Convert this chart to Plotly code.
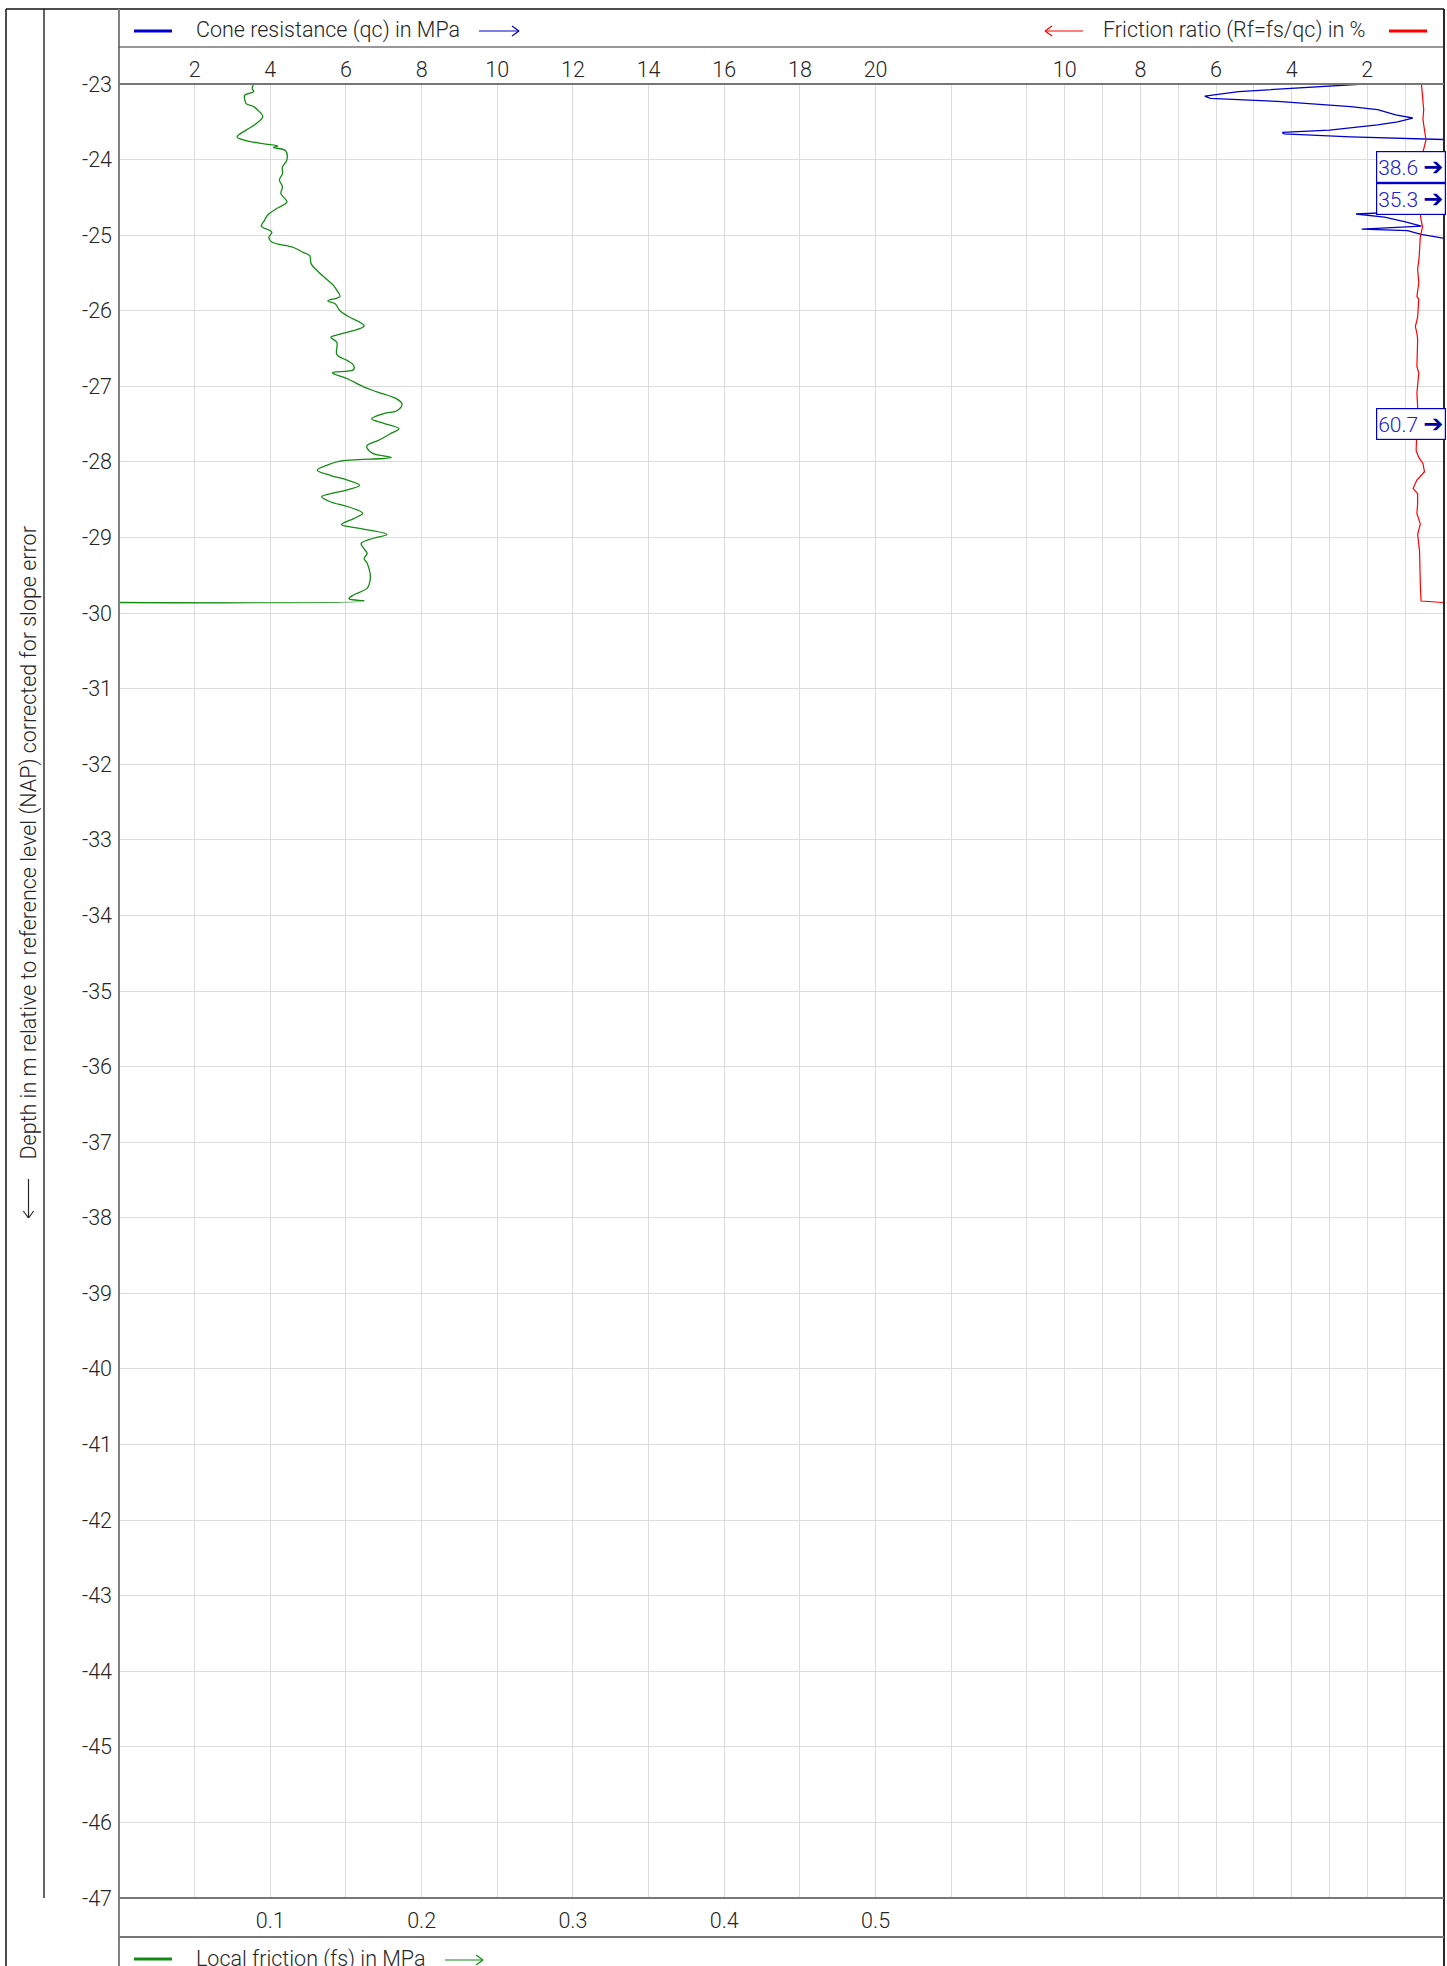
import plotly.graph_objects as go

# depth in m (NAP) and local friction fs in MPa
fs_depth = [-23.00, -23.06, -23.10, -23.15, -23.19, -23.26, -23.30, -23.35, -23.43, -23.52,
            -23.61, -23.66, -23.70, -23.74, -23.79, -23.82, -23.84, -23.88, -24.00, -24.10,
            -24.19, -24.27, -24.36, -24.45, -24.56, -24.65, -24.74, -24.81, -24.88, -24.96,
            -25.03, -25.09, -25.16, -25.23, -25.27, -25.38, -25.47, -25.58, -25.67, -25.73,
            -25.81, -25.87, -25.91, -26.00, -26.07, -26.20, -26.31, -26.35, -26.42, -26.58,
            -26.66, -26.72, -26.78, -26.82, -26.90, -27.01, -27.07, -27.16, -27.23, -27.32,
            -27.36, -27.43, -27.49, -27.56, -27.63, -27.71, -27.78, -27.82, -27.89, -27.94,
            -27.99, -28.04, -28.11, -28.18, -28.24, -28.31, -28.37, -28.42, -28.46, -28.53,
            -28.59, -28.68, -28.75, -28.83, -28.88, -28.96, -29.01, -29.08, -29.15, -29.21,
            -29.28, -29.34, -29.48, -29.56, -29.67, -29.76, -29.81, -29.84, -29.86]
fs_val = [0.089, 0.088, 0.089, 0.083, 0.083, 0.084, 0.089, 0.092, 0.095, 0.091,
          0.084, 0.080, 0.078, 0.082, 0.095, 0.105, 0.102, 0.110, 0.111, 0.108,
          0.108, 0.106, 0.108, 0.107, 0.111, 0.104, 0.098, 0.096, 0.094, 0.101,
          0.099, 0.101, 0.115, 0.122, 0.126, 0.127, 0.131, 0.137, 0.142, 0.144,
          0.146, 0.138, 0.143, 0.146, 0.151, 0.162, 0.146, 0.140, 0.144, 0.144,
          0.151, 0.155, 0.155, 0.141, 0.151, 0.162, 0.170, 0.183, 0.187, 0.184,
          0.175, 0.167, 0.175, 0.185, 0.179, 0.172, 0.164, 0.164, 0.168, 0.180,
          0.146, 0.138, 0.131, 0.140, 0.151, 0.159, 0.151, 0.140, 0.134, 0.140,
          0.151, 0.161, 0.155, 0.147, 0.159, 0.177, 0.168, 0.160, 0.162, 0.164,
          0.162, 0.164, 0.166, 0.166, 0.164, 0.155, 0.152, 0.162, 0.000]

# cone resistance qc in MPa (values above 35 run off the chart)
qc_depth = [-23.00, -23.10, -23.16, -23.19, -23.23, -23.30, -23.34, -23.38, -23.41, -23.45,
            -23.50, -23.54, -23.59, -23.61, -23.64, -23.66, -23.70, -23.74, -23.90, -24.10,
            -24.30, -24.52, -24.62, -24.67, -24.72, -24.76, -24.82, -24.88, -24.92, -24.94,
            -24.99, -25.04, -25.40, -26.00, -26.80, -27.50, -28.20, -29.00, -29.84]
qc_val = [32.90, 29.60, 28.70, 28.85, 30.62, 32.56, 33.27, 33.58, 33.75, 34.20,
          33.80, 33.27, 32.39, 32.00, 30.75, 30.80, 32.56, 35.40, 37.20, 38.60,
          36.10, 35.30, 35.10, 35.00, 32.70, 33.45, 33.98, 34.43, 32.85, 34.06,
          34.42, 35.00, 41.00, 47.00, 52.00, 60.70, 49.00, 44.00, 42.00]

# friction ratio Rf in %
rf_depth = [-23.00, -23.17, -23.34, -23.47, -23.60, -23.74, -23.92, -24.14, -24.40, -24.58,
            -24.80, -24.89, -25.02, -25.19, -25.29, -25.45, -25.63, -25.81, -25.85, -26.08,
            -26.21, -26.30, -26.38, -26.56, -26.74, -26.82, -26.96, -27.09, -27.27, -27.45,
            -27.63, -27.85, -27.94, -28.02, -28.13, -28.24, -28.35, -28.42, -28.55, -28.68,
            -28.82, -28.96, -29.18, -29.40, -29.62, -29.84, -29.86]
rf_val = [0.57, 0.54, 0.51, 0.53, 0.50, 0.45, 0.54, 0.58, 0.60, 0.63,
          0.58, 0.54, 0.60, 0.62, 0.63, 0.67, 0.64, 0.69, 0.64, 0.67,
          0.73, 0.69, 0.67, 0.68, 0.69, 0.64, 0.67, 0.69, 0.67, 0.68,
          0.69, 0.71, 0.64, 0.53, 0.49, 0.69, 0.79, 0.67, 0.67, 0.69,
          0.60, 0.67, 0.62, 0.62, 0.60, 0.58, 0.00]

# off-scale qc maxima shown as labels at the right edge
off_depth = [-24.10, -24.52, -27.50]
off_val = [38.6, 35.3, 60.7]

qc_ticks = [2, 4, 6, 8, 10, 12, 14, 16, 18, 20]
qc_grid = [22, 24, 25, 26, 27, 28, 29, 30, 31, 32, 33, 34]
rf_ticks = [2, 4, 6, 8, 10]
fs_ticks = [0.1, 0.2, 0.3, 0.4, 0.5]
depth_ticks = list(range(-47, -22))

BLUE = "#0000cc"
RED = "#ff0000"
GREEN = "#128c12"
GRID = "#dcdcdc"
TXT = "#262626"
FONT = "Roboto, DejaVu Sans"
FS = 21.5

W, H = 1447, 1966
L, R, T, B = 119, 1443, 84, 1898


def fx(X):
    return (X - L) / (R - L)


def fy(Y):
    return (B - Y) / (B - T)


fig = go.Figure()
fig.add_trace(go.Scatter(x=fs_val, y=fs_depth, xaxis="x3", yaxis="y", mode="lines",
                         line=dict(color=GREEN, width=1.3, shape="spline", smoothing=1.0)))
fig.add_trace(go.Scatter(x=qc_val, y=qc_depth, xaxis="x", yaxis="y", mode="lines",
                         line=dict(color=BLUE, width=1.3)))
fig.add_trace(go.Scatter(x=rf_val, y=rf_depth, xaxis="x2", yaxis="y", mode="lines",
                         line=dict(color=RED, width=1.2)))

tickfont = dict(family=FONT, size=FS, color=TXT, weight=300)

fig.update_layout(
    width=W, height=H,
    margin=dict(l=L, r=W - R, t=T, b=H - B, autoexpand=False),
    paper_bgcolor="white", plot_bgcolor="white",
    showlegend=False,
    font=dict(family=FONT, size=FS, color=TXT, weight=300),
    xaxis=dict(range=[0, 35], side="top", anchor="y", automargin=False,
               tickvals=qc_ticks + qc_grid,
               ticktext=[str(v) for v in qc_ticks] + [""] * len(qc_grid),
               showgrid=True, gridcolor=GRID, gridwidth=1.2,
               ticks="", showline=False, zeroline=False,
               tickfont=tickfont, ticklabelstandoff=2),
    xaxis2=dict(range=[35, 0], side="top", anchor="y", overlaying="x", automargin=False,
                tickvals=rf_ticks, ticktext=[str(v) for v in rf_ticks],
                showgrid=False, ticks="", showline=False, zeroline=False,
                tickfont=tickfont, ticklabelstandoff=2),
    xaxis3=dict(range=[0, 0.875], side="bottom", anchor="y", overlaying="x", automargin=False,
                tickvals=fs_ticks, ticktext=[str(v) for v in fs_ticks],
                showgrid=False, ticks="", showline=False, zeroline=False,
                tickfont=tickfont, ticklabelstandoff=7),
    yaxis=dict(range=[-47, -23], tickvals=depth_ticks, automargin=False,
               ticktext=[str(v) for v in depth_ticks],
               showgrid=True, gridcolor=GRID, gridwidth=1.2,
               ticks="", showline=False, zeroline=False,
               tickfont=tickfont, ticklabelstandoff=6),
)


def line(x0, y0, x1, y1, color, width):
    fig.add_shape(type="line", xref="paper", yref="paper",
                  x0=fx(x0), y0=fy(y0), x1=fx(x1), y1=fy(y1),
                  line=dict(color=color, width=width), layer="above")


# frame
line(6, 9, 1444, 9, "#111", 1.5)
line(6, 9, 6, 1990, "#111", 1.5)
line(1444, 9, 1444, 1990, "#111", 1.8)
line(44, 9, 44, B, "#111", 1.3)
line(L, 9, L, 1990, "#808080", 2)
line(L, 47, 1444, 47, "#333", 1.2)
line(L, T, 1444, T, "#777", 2)
line(L, B, 1444, B, "#777", 2)
line(L, 1937, 1444, 1937, "#777", 2)

# legend samples
line(134, 31, 172, 31, BLUE, 3)
line(1389, 31, 1427, 31, RED, 3)
line(134, 1959, 172, 1959, GREEN, 3)


def arrow(x0, x1, y, color):
    # thin arrow from x0 to x1 with an open head at x1
    d = 7 if x1 > x0 else -7
    line(x0, y, x1, y, color, 1.2)
    line(x1 - d, y - 5, x1, y, color, 1.2)
    line(x1 - d, y + 5, x1, y, color, 1.2)


arrow(479, 519, 31, BLUE)
arrow(1083, 1045, 31, RED)
arrow(445, 483, 1960, GREEN)

# y title arrow (points down)
line(28.5, 1179, 28.5, 1218, TXT, 1.2)
line(23.3, 1211, 28.5, 1218, TXT, 1.2)
line(33.7, 1211, 28.5, 1218, TXT, 1.2)


def label(X, Y, text, anchor="left", color=TXT, angle=0):
    fig.add_annotation(xref="paper", yref="paper", x=fx(X), y=fy(Y), text=text,
                       showarrow=False, xanchor=anchor, yanchor="middle",
                       textangle=angle, font=dict(family=FONT, size=FS, color=color, weight=300))


label(194, 30, "Cone resistance (qc) in MPa")
label(1367, 30, "Friction ratio (Rf=fs/qc) in %", anchor="right")
label(194, 1959, "Local friction (fs) in MPa")
fig.add_annotation(xref="paper", yref="paper", x=fx(28.5), y=fy(843),
                   text="Depth in m relative to reference level (NAP) corrected for slope error",
                   showarrow=False, textangle=-90, xanchor="center", yanchor="middle",
                   font=dict(family=FONT, size=FS, color=TXT, weight=300))

for d, v in zip(off_depth, off_val):
    fig.add_annotation(xref="paper", yref="y", x=fx(1446), y=d,
                       text=(f"{v} <span style='color:#0000a0;font-family:DejaVu Sans;"
                             f"font-size:24px;font-weight:bold'>➔</span>"),
                       showarrow=False, xanchor="right", yanchor="middle",
                       bgcolor="white", bordercolor=BLUE, borderwidth=1.2, borderpad=1,
                       font=dict(family=FONT, size=21, color="#2020d0", weight=300))

fig.write_html("out.html", config={"displayModeBar": False},
               post_script="document.body.style.margin='0';")
